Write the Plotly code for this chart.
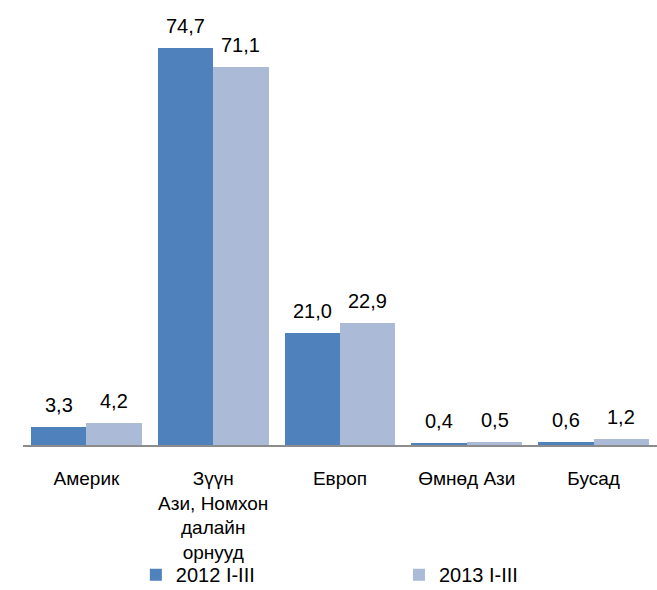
import plotly.graph_objects as go

categories = ["Америк", "Зүүн<br>Ази, Номхон<br>далайн<br>орнууд", "Европ", "Өмнөд Ази", "Бусад"]
series_names = ["2012 I-III", "2013 I-III"]
values_2012 = [3.3, 74.7, 21.0, 0.4, 0.6]
values_2013 = [4.2, 71.1, 22.9, 0.5, 1.2]

colors = ["#4F81BD", "#AABAD7"]
bar_w = 0.437
positions = list(range(len(categories)))
legend_x = [0.178, 0.593]

fig = go.Figure()
for k, (name, vals) in enumerate(zip(series_names, [values_2012, values_2013])):
    fig.add_trace(
        go.Bar(
            x=positions,
            y=vals,
            name=name,
            width=bar_w,
            offset=-bar_w if k == 0 else 0,
            marker=dict(color=colors[k], line=dict(width=0)),
            legend="legend" if k == 0 else "legend2",
        )
    )
    # value labels above each bar
    for i, v in enumerate(vals):
        fig.add_annotation(
            x=i + (-bar_w / 2 if k == 0 else bar_w / 2),
            y=v,
            xref="x",
            yref="y",
            text=f"{v:.1f}".replace(".", ","),
            showarrow=False,
            yanchor="bottom",
            yshift=9,
            font=dict(size=20, color="#000000"),
        )

legend_style = dict(
    orientation="h",
    xanchor="left",
    y=-0.305,
    yanchor="middle",
    itemwidth=30,
    bgcolor="rgba(0,0,0,0)",
    font=dict(size=20),
)

fig.update_layout(
    width=657,
    height=590,
    margin=dict(l=23, r=0, t=20, b=145, autoexpand=False),
    paper_bgcolor="white",
    plot_bgcolor="white",
    font=dict(family="Liberation Sans, Arial, sans-serif", size=20, color="#000000"),
    showlegend=True,
    legend=dict(x=legend_x[0], **legend_style),
    legend2=dict(x=legend_x[1], **legend_style),
    bargap=0,
)
fig.update_xaxes(
    range=[-0.5, 4.5],
    tickvals=positions,
    ticktext=categories,
    showline=True,
    linecolor="#8C8C8C",
    linewidth=2,
    ticks="",
    showgrid=False,
    zeroline=False,
    automargin=False,
    ticklabelstandoff=15,
    tickfont=dict(size=19),
)
fig.update_yaxes(
    range=[0, 80],
    visible=False,
    showgrid=False,
    zeroline=False,
    automargin=False,
)

# drop the default page margin so the figure sits at the window's corner
fig.write_html(
    "out.html",
    config={"displayModeBar": False},
    post_script="document.body.style.margin = '0';",
)
